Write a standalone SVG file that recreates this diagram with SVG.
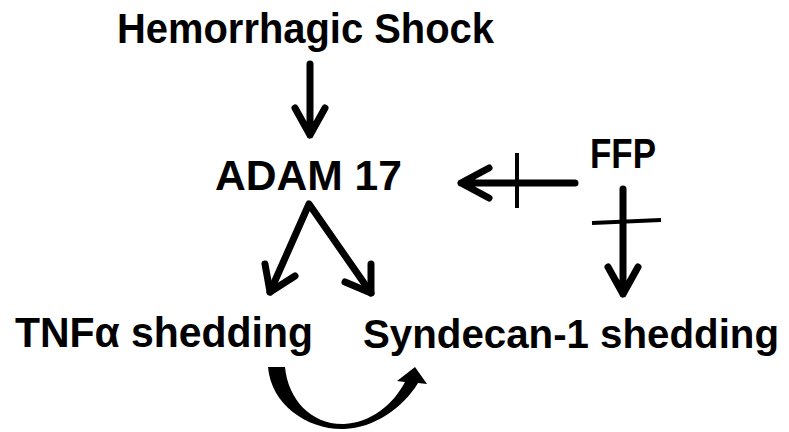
<svg xmlns="http://www.w3.org/2000/svg" width="789" height="432" viewBox="0 0 789 432">
  <style>
    .label { font-family: "Liberation Sans", Arial, sans-serif; font-weight: bold; font-size: 42px; fill: #000; }
    .edge { fill: none; stroke: #000; stroke-width: 7; stroke-linecap: round; stroke-linejoin: round; }
    .block { fill: none; stroke: #000; stroke-width: 4; stroke-linecap: butt; }
  </style>
  <rect width="789" height="432" fill="#fff"/>

  <g id="node-shock">
    <text class="label" x="117" y="43" textLength="377" lengthAdjust="spacingAndGlyphs">Hemorrhagic Shock</text>
  </g>
  <g id="node-adam17">
    <text class="label" x="215" y="190" textLength="187" lengthAdjust="spacingAndGlyphs">ADAM 17</text>
  </g>
  <g id="node-ffp">
    <text class="label" x="590" y="168" textLength="66" lengthAdjust="spacingAndGlyphs">FFP</text>
  </g>
  <g id="node-tnf">
    <text class="label" x="15" y="347" textLength="298" lengthAdjust="spacingAndGlyphs">TNFα shedding</text>
  </g>
  <g id="node-syndecan">
    <text class="label" x="363" y="348" style="font-size:40.5px" textLength="416" lengthAdjust="spacingAndGlyphs">Syndecan-1 shedding</text>
  </g>

  <g id="connectors">
    <!-- shock -> ADAM 17 -->
    <path class="edge" d="M310 64 V135 M295 108 L310 135 L325 108"/>
    <!-- ADAM 17 -> TNFa / Syndecan-1 -->
    <path class="edge" d="M270 292 L309 204 L371 293"/>
    <path class="edge" d="M265 264 L270 292 L295 276"/>
    <path class="edge" d="M371 264 L371 293 L345 282"/>
    <!-- FFP inhibits ADAM 17 -->
    <path class="edge" d="M575 183 H461 M489 168 L461 183 L489 198"/>
    <line class="block" x1="517" y1="153" x2="517" y2="208"/>
    <!-- FFP inhibits syndecan-1 shedding -->
    <path class="edge" d="M623 189 V294 M608 267 L623 294 L638 267"/>
    <line class="block" x1="592" y1="223" x2="661" y2="220"/>
    <!-- TNFa shedding -> syndecan-1 shedding (curved block arrow) -->
    <path fill="#000" d="M268 367 C271 405 308 430 344 429 C374 428 403 408 418 383 L427 384 L415 367 L397 381 L405 382 C393 405 370 423 344 424 C312 425 288 400 285 367 Z"/>
  </g>
</svg>
